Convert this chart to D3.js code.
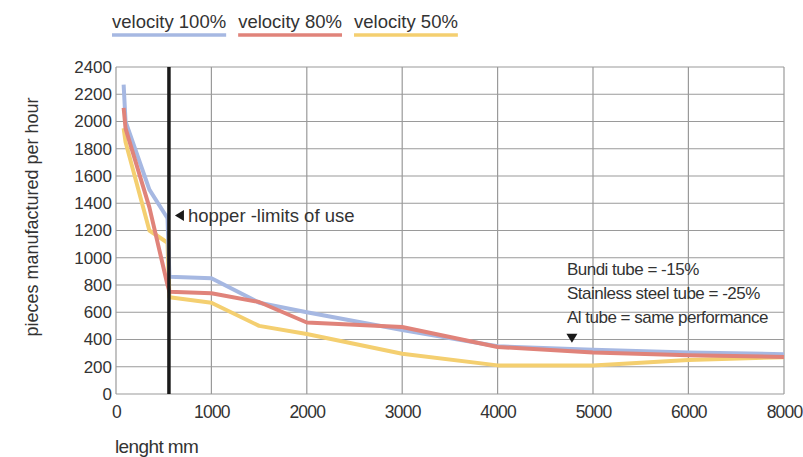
<!DOCTYPE html>
<html>
<head>
<meta charset="utf-8">
<script src="https://cdn.jsdelivr.net/npm/d3@7"></script>
<style>
  body { margin: 0; background: #fff; }
  text { fill: #333; }
</style>
</head>
<body>
<div id="chart"></div>
<script>
'use strict';

// lengths in mm, pieces per hour
var xTicks = [0, 1000, 2000, 3000, 4000, 5000, 6000, 8000];
var yTicks = [0, 200, 400, 600, 800, 1000, 1200, 1400, 1600, 1800, 2000, 2200, 2400];

var seriesNames = ['velocity 100%', 'velocity 80%', 'velocity 50%'];
var seriesColors = ['#a6b8e2', '#e0837a', '#f4cf70'];

var lengths = [80, 100, 350, 540, 560, 1000, 1500, 2000, 3000, 4000, 5000, 6000, 8000];
var vel100 = [2270, 2000, 1500, 1290, 860, 850, 670, 600, 470, 350, 325, 305, 292];
var vel80  = [2100, 1950, 1370, 800, 750, 740, 675, 525, 492, 345, 305, 285, 272];
var vel50  = [1950, 1850, 1200, 1110, 710, 670, 500, 440, 295, 210, 210, 250, 270];

var hopperLimit = 555;
var hopperLabel = 'hopper -limits of use';
var noteLines = ['Bundi tube = -15%', 'Stainless steel tube = -25%', 'Al tube = same performance'];
var notePos = [4800, 1000]; // where the notes sit, in data units

var W = 803, H = 457;
var m = {left: 116, right: 19, top: 67, bottom: 63};

var svg = d3.select('#chart').append('svg')
  .attr('width', W).attr('height', H);

// the axis jumps from 6000 straight to 8000 in one step
var x = d3.scaleLinear()
  .domain([0, 6000, 8000])
  .range([m.left, m.left + 6 * 95.4, W - m.right]);
var y = d3.scaleLinear()
  .domain([0, 2400])
  .range([H - m.bottom, m.top]);

var regular = '"Liberation Sans", Arial, sans-serif';

// narrow-ish text, no condensed face installed
function condensed(sel, size) {
  sel.style('font-family', regular).style('font-size', size + 'px')
    .style('letter-spacing', '-0.8px');
}

// grid
svg.append('g').selectAll('line')
  .data(yTicks)
  .enter().append('line')
    .attr('x1', x(0)).attr('x2', x(8000))
    .attr('y1', function(d) { return y(d); })
    .attr('y2', function(d) { return y(d); })
    .style('stroke', '#9a9a9a').style('stroke-width', 1.2);

svg.append('g').selectAll('line')
  .data(xTicks)
  .enter().append('line')
    .attr('x1', function(d) { return x(d); })
    .attr('x2', function(d) { return x(d); })
    .attr('y1', y(0)).attr('y2', y(2400))
    .style('stroke', '#9a9a9a').style('stroke-width', 1.2);

// axes, labels only
var xAxis = svg.append('g')
  .attr('transform', 'translate(0,' + y(0) + ')')
  .call(d3.axisBottom(x).tickValues(xTicks).tickSize(0).tickPadding(12).tickFormat(d3.format('d')));
xAxis.select('.domain').remove();
xAxis.selectAll('text').call(condensed, 17.5).style('fill', '#333');

var yAxis = svg.append('g')
  .attr('transform', 'translate(' + x(0) + ',0)')
  .call(d3.axisLeft(y).tickValues(yTicks).tickSize(0).tickPadding(4).tickFormat(d3.format('d')));
yAxis.select('.domain').remove();
yAxis.selectAll('text')
  .style('font-family', regular).style('font-size', '17px').style('fill', '#333');

svg.append('text')
  .attr('transform', 'translate(38,217) rotate(-90)')
  .attr('text-anchor', 'middle')
  .style('font-family', regular).style('font-size', '18px')
  .text('pieces manufactured per hour');

svg.append('text')
  .attr('x', 115).attr('y', 453)
  .call(condensed, 19)
  .style('letter-spacing', '-0.6px')
  .text('lenght mm');

// series lines
var line = d3.line()
  .x(function(d) { return x(d[0]); })
  .y(function(d) { return y(d[1]); });

var values = [vel100, vel80, vel50];
var drawOrder = [2, 0, 1];
drawOrder.forEach(function(i) {
  svg.append('path')
    .datum(lengths.map(function(l, j) { return [l, values[i][j]]; }))
    .attr('d', line)
    .style('fill', 'none')
    .style('stroke', seriesColors[i])
    .style('stroke-width', 4)
    .style('stroke-linejoin', 'round');
});

// hopper limit
svg.append('line')
  .attr('x1', x(hopperLimit)).attr('x2', x(hopperLimit))
  .attr('y1', y(2400)).attr('y2', y(0))
  .style('stroke', '#1a1a1a').style('stroke-width', 3.5);

var hx = x(hopperLimit) + 6, hy = y(1310);
svg.append('path')
  .attr('d', 'M' + hx + ',' + hy + 'l9,-5.5v11z')
  .style('fill', '#1a1a1a');
svg.append('text')
  .attr('x', hx + 13).attr('y', hy + 6.5)
  .style('font-family', regular).style('font-size', '18.5px')
  .text(hopperLabel);

// tube notes
var nx = x(notePos[0]) - 7;
svg.append('g').selectAll('text')
  .data(noteLines)
  .enter().append('text')
    .attr('x', nx)
    .attr('y', function(d, i) { return y(notePos[1]) + 17 + i * 24; })
    .call(condensed, 17)
    .style('letter-spacing', '-0.5px')
    .text(function(d) { return d; });
var tx = nx + 5, ty = y(notePos[1]) + 76;
svg.append('path')
  .attr('d', 'M' + (tx - 5.5) + ',' + ty + 'h11l-5.5,9z')
  .style('fill', '#1a1a1a');

// legend
var lx = 112;
seriesNames.forEach(function(name, i) {
  var t = svg.append('text')
    .attr('x', lx).attr('y', 28)
    .style('font-family', regular).style('font-size', '18.5px')
    .text(name);
  var w = t.node().getComputedTextLength();
  svg.append('line')
    .attr('x1', lx).attr('x2', lx + w)
    .attr('y1', 35).attr('y2', 35)
    .style('stroke', seriesColors[i]).style('stroke-width', 3.5);
  lx += w + 12;
});
</script>
</body>
</html>
